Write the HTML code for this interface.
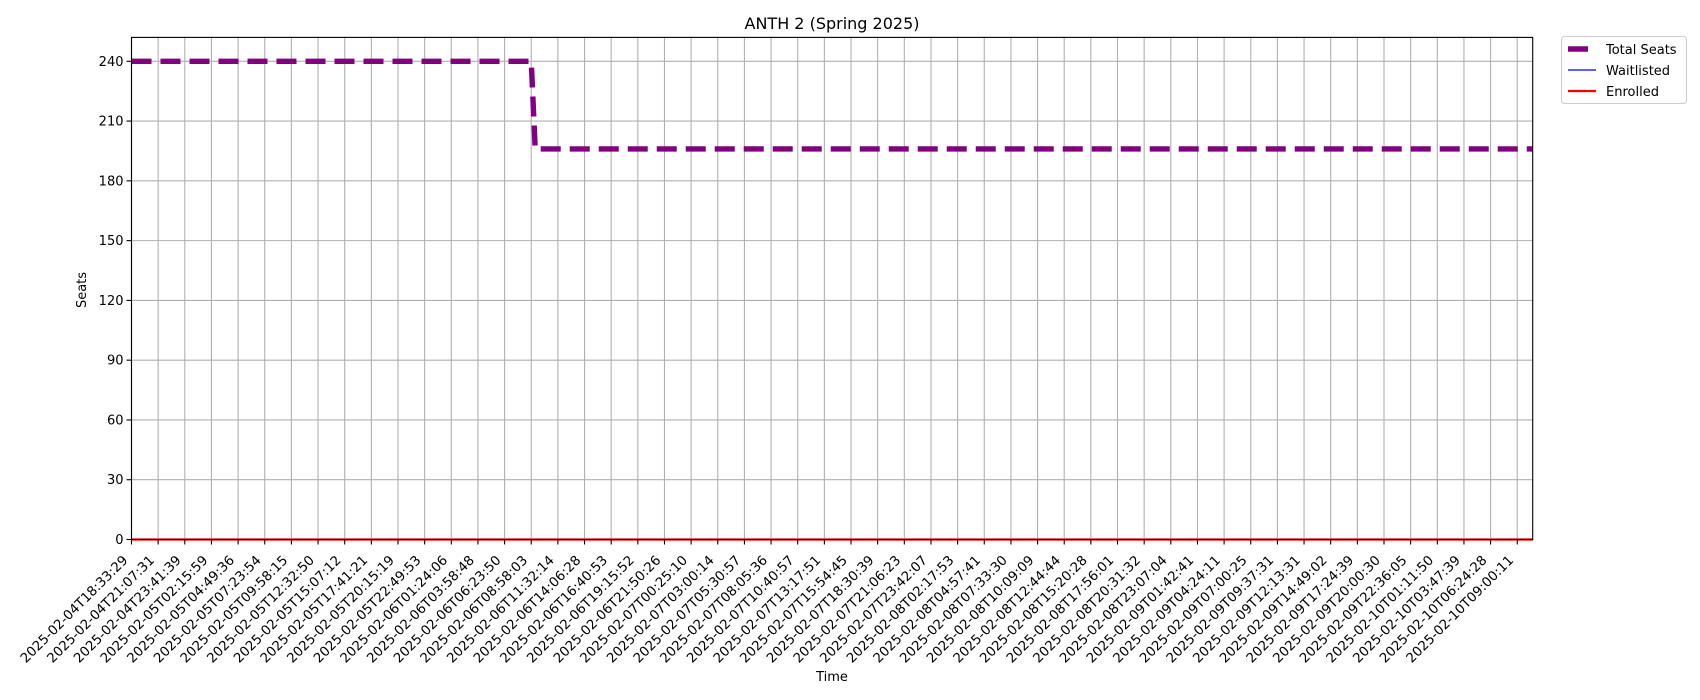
<!DOCTYPE html>
<html><head><meta charset="utf-8"><style>
html,body{margin:0;padding:0;background:#fff;}
svg{display:block;font-family:"DejaVu Sans","Liberation Sans",sans-serif;}
</style></head><body>
<svg id="chart" width="1700" height="700">
<text x="832" y="29" font-size="16" text-anchor="middle">ANTH 2 (Spring 2025)</text>
<g id="grid"></g>
<g id="series"></g>
<rect x="131.5" y="37.4" width="1401.2" height="502.1" fill="none" stroke="#000" stroke-width="1.1"/>
<g id="yticks"></g>
<g id="xticks"></g>
<text x="86" y="290" font-size="13" text-anchor="middle" transform="rotate(-90 86 290)">Seats</text>
<text x="832" y="681" font-size="13" text-anchor="middle">Time</text>
<g>
<rect x="1561.5" y="36.5" width="125" height="67" rx="3" fill="#fff" stroke="#ccc"/>
<line x1="1568" y1="49" x2="1588" y2="49" stroke="#800080" stroke-width="5.4"/>
<text x="1606" y="54" font-size="13">Total Seats</text>
<line x1="1568" y1="70" x2="1596" y2="70" stroke="#0000ff" stroke-width="1.2"/>
<text x="1606" y="75" font-size="13">Waitlisted</text>
<line x1="1568" y1="91" x2="1596" y2="91" stroke="#ff0000" stroke-width="2.2"/>
<text x="1606" y="96" font-size="13">Enrolled</text>
</g>
</svg>
<script>
const tickLabels = ["2025-02-04T18:33:29","2025-02-04T21:07:31","2025-02-04T23:41:39","2025-02-05T02:15:59","2025-02-05T04:49:36","2025-02-05T07:23:54","2025-02-05T09:58:15","2025-02-05T12:32:50","2025-02-05T15:07:12","2025-02-05T17:41:21","2025-02-05T20:15:19","2025-02-05T22:49:53","2025-02-06T01:24:06","2025-02-06T03:58:48","2025-02-06T06:23:50","2025-02-06T08:58:03","2025-02-06T11:32:14","2025-02-06T14:06:28","2025-02-06T16:40:53","2025-02-06T19:15:52","2025-02-06T21:50:26","2025-02-07T00:25:10","2025-02-07T03:00:14","2025-02-07T05:30:57","2025-02-07T08:05:36","2025-02-07T10:40:57","2025-02-07T13:17:51","2025-02-07T15:54:45","2025-02-07T18:30:39","2025-02-07T21:06:23","2025-02-07T23:42:07","2025-02-08T02:17:53","2025-02-08T04:57:41","2025-02-08T07:33:30","2025-02-08T10:09:09","2025-02-08T12:44:44","2025-02-08T15:20:28","2025-02-08T17:56:01","2025-02-08T20:31:32","2025-02-08T23:07:04","2025-02-09T01:42:41","2025-02-09T04:24:11","2025-02-09T07:00:25","2025-02-09T09:37:31","2025-02-09T12:13:31","2025-02-09T14:49:02","2025-02-09T17:24:39","2025-02-09T20:00:30","2025-02-09T22:36:05","2025-02-10T01:11:50","2025-02-10T03:47:39","2025-02-10T06:24:28","2025-02-10T09:00:11"];
const yTicks = [0,30,60,90,120,150,180,210,240];
// sample positions measured in label-interval units
const sampleIdx = [0, 15, 15.15, 52.58];
const totalSeats = [240, 240, 196, 196];
const waitlisted = [0, 0, 0, 0];
const enrolled = [0, 0, 0, 0];

const X0=131.5, X1=1532.7, Y0=539.5, Y1=37.4;
const xMax = 52.58, yMax = 252;
const xs = i => X0 + (i/xMax)*(X1-X0);
const ys = v => Y0 - (v/yMax)*(Y0-Y1);
const NS="http://www.w3.org/2000/svg";
function mk(tag, attrs, parent){const e=document.createElementNS(NS,tag);for(const k in attrs)e.setAttribute(k,attrs[k]);parent.appendChild(e);return e;}
const grid=document.getElementById('grid'), yt=document.getElementById('yticks'), xt=document.getElementById('xticks'), ser=document.getElementById('series');

yTicks.forEach(v=>{
  const y=ys(v);
  const g=mk('line',{x1:X0,x2:X1,y1:y,y2:y,stroke:'#b0b0b0','stroke-width':1.1},grid);
  
  
  const t=mk('line',{x1:X0-5,x2:X0,y1:y,y2:y,stroke:'#000','stroke-width':1.1},yt);
  
  
  const l=mk('text',{x:X0-8,y:y+4.5,'font-size':13,'text-anchor':'end'},yt);
  l.textContent=v;
  
  
});
tickLabels.forEach((s,i)=>{
  const x=xs(i);
  const g=mk('line',{x1:x,x2:x,y1:Y1,y2:Y0,stroke:'#b0b0b0','stroke-width':1.1},grid);
  
  
  const t=mk('line',{x1:x,x2:x,y1:Y0,y2:Y0+5,stroke:'#000','stroke-width':1.1},xt);
  
  
  const lx=x-3, ly=561;
  const l=mk('text',{x:lx,y:ly,'font-size':13.3,'text-anchor':'end',transform:`rotate(-45 ${lx} ${ly})`},xt);
  l.textContent=s;
  
  
});
function pts(vals){return sampleIdx.map((i,k)=>xs(i)+','+ys(vals[k])).join(' ');}
const pw=mk('polyline',{points:pts(waitlisted),fill:'none',stroke:'#0000ff','stroke-width':1.2},ser);


const pt=mk('polyline',{points:pts(totalSeats),fill:'none',stroke:'#800080','stroke-width':5.4,'stroke-dasharray':'20 9','stroke-linejoin':'round'},ser);


const pe=mk('polyline',{points:pts(enrolled),fill:'none',stroke:'#ff0000','stroke-width':2.2},ser);


</script>
</body></html>
